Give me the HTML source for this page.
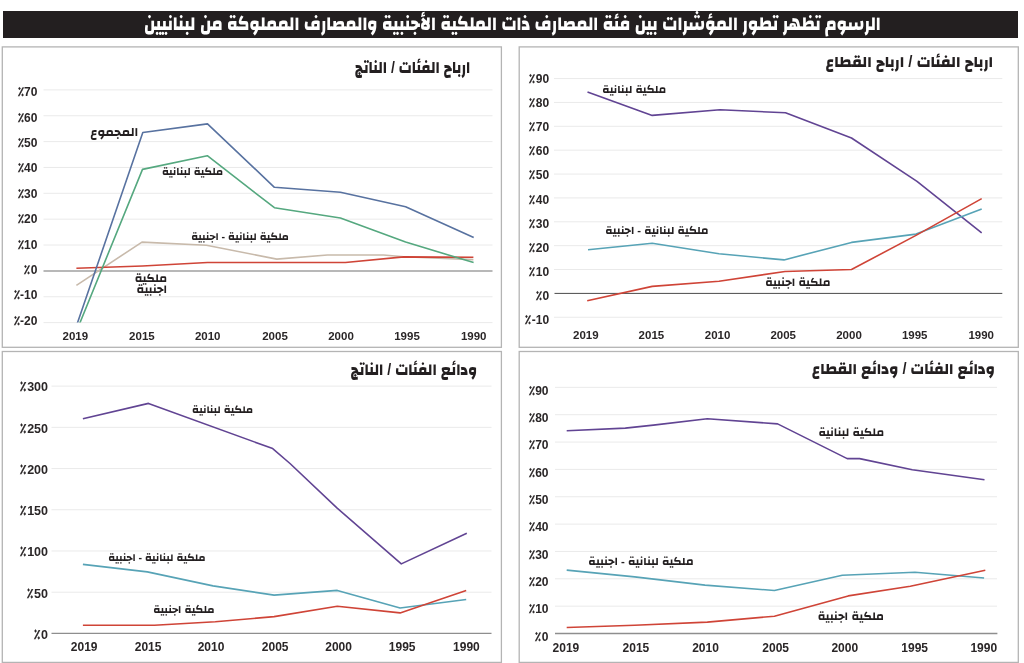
<!DOCTYPE html>
<html lang="ar"><head><meta charset="utf-8"><title>الرسوم تظهر تطور المؤشرات</title>
<style>
html,body{margin:0;padding:0;background:#fff;}
body{width:1024px;height:663px;position:relative;overflow:hidden;}
svg{position:absolute;left:0;top:0;}
.a{position:absolute;line-height:1.6;font-family:'Liberation Sans', 'Changa', 'DejaVu Sans', sans-serif;direction:rtl;white-space:nowrap;}
.x{position:absolute;width:60px;text-align:center;line-height:20px;font-family:'Liberation Sans', Arial, sans-serif;font-weight:700;color:#2a2627;white-space:nowrap;}
.y{position:absolute;line-height:20px;font-family:'Liberation Sans', Arial, sans-serif;font-weight:700;color:#2a2627;white-space:nowrap;direction:ltr;}
.p{font-family:'Readex Pro', 'DejaVu Sans', sans-serif;font-weight:700;-webkit-text-stroke:0.25px #2a2627;display:inline-block;transform:scaleX(0.8);transform-origin:100% 50%;}
</style></head><body>
<div style="position:absolute;left:3.2px;top:10.8px;width:1014.5px;height:27.2px;background:#231f20"></div>
<svg width="1024" height="663" viewBox="0 0 1024 663">
<rect x="2.3" y="46.9" width="499.1" height="300.4" fill="none" stroke="#b4b4b4" stroke-width="1.3"/>
<rect x="519.2" y="46.9" width="499.1" height="300.4" fill="none" stroke="#b4b4b4" stroke-width="1.3"/>
<rect x="2.3" y="351.5" width="499.1" height="310.9" fill="none" stroke="#b4b4b4" stroke-width="1.3"/>
<rect x="519.2" y="351.5" width="499.1" height="310.9" fill="none" stroke="#b4b4b4" stroke-width="1.3"/>
<line x1="43.5" y1="89.88" x2="492.5" y2="89.88" stroke="#eaeaea" stroke-width="1"/>
<line x1="43.5" y1="115.74" x2="492.5" y2="115.74" stroke="#eaeaea" stroke-width="1"/>
<line x1="43.5" y1="141.60" x2="492.5" y2="141.60" stroke="#eaeaea" stroke-width="1"/>
<line x1="43.5" y1="167.46" x2="492.5" y2="167.46" stroke="#eaeaea" stroke-width="1"/>
<line x1="43.5" y1="193.32" x2="492.5" y2="193.32" stroke="#eaeaea" stroke-width="1"/>
<line x1="43.5" y1="219.18" x2="492.5" y2="219.18" stroke="#eaeaea" stroke-width="1"/>
<line x1="43.5" y1="245.04" x2="492.5" y2="245.04" stroke="#eaeaea" stroke-width="1"/>
<line x1="43.5" y1="296.76" x2="492.5" y2="296.76" stroke="#eaeaea" stroke-width="1"/>
<line x1="43.5" y1="322.62" x2="492.5" y2="322.62" stroke="#eaeaea" stroke-width="1"/>
<line x1="43.5" y1="270.90" x2="492.5" y2="270.90" stroke="#a0a0a0" stroke-width="1.5"/>
<clipPath id="cTL"><rect x="40" y="80" width="460" height="242.6"/></clipPath>
<polyline points="76.4,285.3 142.0,242.1 206.4,245.2 276.8,259.1 327.4,255.0 383.5,255.0 403.8,256.8 473.4,259.6" fill="none" stroke="#c8baab" stroke-width="1.6" stroke-linejoin="round" stroke-linecap="butt"/>
<polyline points="76.4,268.2 142.5,266.0 207.5,262.5 274.4,262.5 345.4,262.5 403.8,256.9 473.4,257.2" fill="none" stroke="#cf4437" stroke-width="1.6" stroke-linejoin="round" stroke-linecap="butt"/>
<polyline points="77.0,330.0 142.5,169.4 207.3,155.7 274.4,207.7 340.4,218.0 405.6,242.1 473.6,262.6" fill="none" stroke="#55a87f" stroke-width="1.6" stroke-linejoin="round" stroke-linecap="butt" clip-path="url(#cTL)"/>
<polyline points="77.1,324.0 142.8,132.5 207.5,123.9 274.4,187.3 340.4,192.2 405.6,206.7 473.7,237.6" fill="none" stroke="#5872a0" stroke-width="1.6" stroke-linejoin="round" stroke-linecap="butt" clip-path="url(#cTL)"/>
<line x1="554" y1="78.57" x2="1002.3" y2="78.57" stroke="#eaeaea" stroke-width="1"/>
<line x1="554" y1="102.44" x2="1002.3" y2="102.44" stroke="#eaeaea" stroke-width="1"/>
<line x1="554" y1="126.31" x2="1002.3" y2="126.31" stroke="#eaeaea" stroke-width="1"/>
<line x1="554" y1="150.18" x2="1002.3" y2="150.18" stroke="#eaeaea" stroke-width="1"/>
<line x1="554" y1="174.05" x2="1002.3" y2="174.05" stroke="#eaeaea" stroke-width="1"/>
<line x1="554" y1="197.92" x2="1002.3" y2="197.92" stroke="#eaeaea" stroke-width="1"/>
<line x1="554" y1="221.79" x2="1002.3" y2="221.79" stroke="#eaeaea" stroke-width="1"/>
<line x1="554" y1="245.66" x2="1002.3" y2="245.66" stroke="#eaeaea" stroke-width="1"/>
<line x1="554" y1="269.53" x2="1002.3" y2="269.53" stroke="#eaeaea" stroke-width="1"/>
<line x1="554" y1="317.27" x2="1002.3" y2="317.27" stroke="#eaeaea" stroke-width="1"/>
<line x1="554.5" y1="293.40" x2="1002.3" y2="293.40" stroke="#4a4a4a" stroke-width="1"/>
<polyline points="587.5,92.1 652.2,115.4 720.0,109.8 785.5,112.8 851.5,138.0 917.0,181.3 981.7,232.8" fill="none" stroke="#614493" stroke-width="1.6" stroke-linejoin="round" stroke-linecap="butt"/>
<polyline points="588.0,249.7 652.2,243.3 719.0,253.8 784.0,259.9 851.5,242.4 916.0,234.1 981.7,209.1" fill="none" stroke="#57a3b6" stroke-width="1.6" stroke-linejoin="round" stroke-linecap="butt"/>
<polyline points="587.2,300.7 652.2,286.4 719.0,281.3 785.0,271.5 851.5,269.5 916.0,235.4 981.7,198.6" fill="none" stroke="#cf4437" stroke-width="1.6" stroke-linejoin="round" stroke-linecap="butt"/>
<line x1="51.5" y1="386.14" x2="491.5" y2="386.14" stroke="#eaeaea" stroke-width="1"/>
<line x1="51.5" y1="427.35" x2="491.5" y2="427.35" stroke="#eaeaea" stroke-width="1"/>
<line x1="51.5" y1="468.56" x2="491.5" y2="468.56" stroke="#eaeaea" stroke-width="1"/>
<line x1="51.5" y1="509.77" x2="491.5" y2="509.77" stroke="#eaeaea" stroke-width="1"/>
<line x1="51.5" y1="550.98" x2="491.5" y2="550.98" stroke="#eaeaea" stroke-width="1"/>
<line x1="51.5" y1="592.19" x2="491.5" y2="592.19" stroke="#eaeaea" stroke-width="1"/>
<line x1="51.5" y1="633.40" x2="491.5" y2="633.40" stroke="#8e8e8e" stroke-width="1.3"/>
<polyline points="82.9,418.8 148.5,403.4 272.7,448.6 290.0,463.5 336.9,507.9 401.3,563.9 466.8,533.2" fill="none" stroke="#614493" stroke-width="1.6" stroke-linejoin="round" stroke-linecap="butt"/>
<polyline points="82.9,564.4 147.3,571.9 213.0,585.9 274.1,595.1 337.3,590.4 400.1,608.0 466.2,599.5" fill="none" stroke="#57a3b6" stroke-width="1.6" stroke-linejoin="round" stroke-linecap="butt"/>
<polyline points="82.9,625.3 154.4,625.3 215.3,621.8 274.1,616.6 337.3,606.3 400.1,612.9 466.2,590.6" fill="none" stroke="#cf4437" stroke-width="1.6" stroke-linejoin="round" stroke-linecap="butt"/>
<line x1="555" y1="387.35" x2="997" y2="387.35" stroke="#eaeaea" stroke-width="1"/>
<line x1="555" y1="414.70" x2="997" y2="414.70" stroke="#eaeaea" stroke-width="1"/>
<line x1="555" y1="442.05" x2="997" y2="442.05" stroke="#eaeaea" stroke-width="1"/>
<line x1="555" y1="469.40" x2="997" y2="469.40" stroke="#eaeaea" stroke-width="1"/>
<line x1="555" y1="496.75" x2="997" y2="496.75" stroke="#eaeaea" stroke-width="1"/>
<line x1="555" y1="524.10" x2="997" y2="524.10" stroke="#eaeaea" stroke-width="1"/>
<line x1="555" y1="551.45" x2="997" y2="551.45" stroke="#eaeaea" stroke-width="1"/>
<line x1="555" y1="578.80" x2="997" y2="578.80" stroke="#eaeaea" stroke-width="1"/>
<line x1="555" y1="606.15" x2="997" y2="606.15" stroke="#eaeaea" stroke-width="1"/>
<line x1="555" y1="633.50" x2="997.4" y2="633.50" stroke="#8e8e8e" stroke-width="1.3"/>
<polyline points="566.7,430.7 625.3,428.1 653.4,425.1 707.3,418.7 777.6,423.9 847.2,458.6 859.6,458.6 912.3,469.8 984.5,479.7" fill="none" stroke="#614493" stroke-width="1.6" stroke-linejoin="round" stroke-linecap="butt"/>
<polyline points="566.7,570.1 634.7,576.9 705.0,585.1 774.4,590.5 842.3,575.2 915.0,572.2 984.1,578.0" fill="none" stroke="#57a3b6" stroke-width="1.6" stroke-linejoin="round" stroke-linecap="butt"/>
<polyline points="566.7,627.5 634.7,625.2 707.3,622.1 774.4,616.2 848.2,595.9 910.3,586.2 985.3,570.3" fill="none" stroke="#cf4437" stroke-width="1.6" stroke-linejoin="round" stroke-linecap="butt"/>
</svg>
<div class="y" style="right:986.6px;top:82.2px;font-size:12px"><span class="p">٪</span>70</div>
<div class="y" style="right:986.6px;top:107.6px;font-size:12px"><span class="p">٪</span>60</div>
<div class="y" style="right:986.6px;top:133.0px;font-size:12px"><span class="p">٪</span>50</div>
<div class="y" style="right:986.6px;top:158.4px;font-size:12px"><span class="p">٪</span>40</div>
<div class="y" style="right:986.6px;top:183.8px;font-size:12px"><span class="p">٪</span>30</div>
<div class="y" style="right:986.6px;top:209.2px;font-size:12px"><span class="p">٪</span>20</div>
<div class="y" style="right:986.6px;top:234.6px;font-size:12px"><span class="p">٪</span>10</div>
<div class="y" style="right:986.6px;top:260.0px;font-size:12px"><span class="p">٪</span>0</div>
<div class="y" style="right:986.6px;top:285.4px;font-size:12px"><span class="p">٪</span>-10</div>
<div class="y" style="right:986.6px;top:310.8px;font-size:12px"><span class="p">٪</span>-20</div>
<div class="x" style="left:45.3px;top:325.6px;font-size:11.5px">2019</div>
<div class="x" style="left:111.9px;top:325.6px;font-size:11.5px">2015</div>
<div class="x" style="left:177.7px;top:325.6px;font-size:11.5px">2010</div>
<div class="x" style="left:245.0px;top:325.6px;font-size:11.5px">2005</div>
<div class="x" style="left:311.0px;top:325.6px;font-size:11.5px">2000</div>
<div class="x" style="left:377.0px;top:325.6px;font-size:11.5px">1995</div>
<div class="x" style="left:443.7px;top:325.6px;font-size:11.5px">1990</div>
<div class="a" style="right:553.80px;top:56.15px;font-size:14.06px;font-weight:800;color:#231f20;transform:scaleY(1.220);transform-origin:50% 60%;">ارباح الفئات / الناتج</div>
<div class="a" style="right:885.80px;top:122.35px;font-size:12.53px;font-weight:700;color:#231f20;">المجموع</div>
<div class="a" style="right:800.90px;top:162.70px;font-size:10.71px;font-weight:700;color:#231f20;">ملكية لبنانية</div>
<div class="a" style="right:735.10px;top:227.60px;font-size:10.67px;font-weight:700;color:#231f20;">ملكية لبنانية - اجنبية</div>
<div class="a" style="right:857.00px;top:268.60px;font-size:11.80px;font-weight:700;color:#231f20;">ملكية</div>
<div class="a" style="right:857.00px;top:279.70px;font-size:11.85px;font-weight:700;color:#231f20;">اجنبية</div>
<div class="y" style="right:474.9px;top:68.8px;font-size:12px"><span class="p">٪</span>90</div>
<div class="y" style="right:474.9px;top:93.0px;font-size:12px"><span class="p">٪</span>80</div>
<div class="y" style="right:474.9px;top:117.1px;font-size:12px"><span class="p">٪</span>70</div>
<div class="y" style="right:474.9px;top:141.2px;font-size:12px"><span class="p">٪</span>60</div>
<div class="y" style="right:474.9px;top:165.4px;font-size:12px"><span class="p">٪</span>50</div>
<div class="y" style="right:474.9px;top:189.5px;font-size:12px"><span class="p">٪</span>40</div>
<div class="y" style="right:474.9px;top:213.6px;font-size:12px"><span class="p">٪</span>30</div>
<div class="y" style="right:474.9px;top:237.7px;font-size:12px"><span class="p">٪</span>20</div>
<div class="y" style="right:474.9px;top:261.9px;font-size:12px"><span class="p">٪</span>10</div>
<div class="y" style="right:474.9px;top:286.0px;font-size:12px"><span class="p">٪</span>0</div>
<div class="y" style="right:474.9px;top:310.1px;font-size:12px"><span class="p">٪</span>-10</div>
<div class="x" style="left:555.8px;top:324.9px;font-size:11.5px">2019</div>
<div class="x" style="left:621.4px;top:324.9px;font-size:11.5px">2015</div>
<div class="x" style="left:687.6px;top:324.9px;font-size:11.5px">2010</div>
<div class="x" style="left:753.2px;top:324.9px;font-size:11.5px">2005</div>
<div class="x" style="left:819.0px;top:324.9px;font-size:11.5px">2000</div>
<div class="x" style="left:884.7px;top:324.9px;font-size:11.5px">1995</div>
<div class="x" style="left:951.2px;top:324.9px;font-size:11.5px">1990</div>
<div class="a" style="right:31.00px;top:49.90px;font-size:15.00px;font-weight:800;color:#231f20;transform:scaleY(1.040);transform-origin:50% 60%;">ارباح الفئات / ارباح القطاع</div>
<div class="a" style="right:357.90px;top:80.60px;font-size:11.19px;font-weight:700;color:#231f20;">ملكية لبنانية</div>
<div class="a" style="right:315.60px;top:221.20px;font-size:11.25px;font-weight:700;color:#231f20;">ملكية لبنانية - اجنبية</div>
<div class="a" style="right:193.60px;top:272.60px;font-size:11.67px;font-weight:700;color:#231f20;">ملكية اجنبية</div>
<div class="y" style="right:976.0px;top:376.4px;font-size:12.5px"><span class="p">٪</span>300</div>
<div class="y" style="right:976.0px;top:417.6px;font-size:12.5px"><span class="p">٪</span>250</div>
<div class="y" style="right:976.0px;top:458.9px;font-size:12.5px"><span class="p">٪</span>200</div>
<div class="y" style="right:976.0px;top:500.1px;font-size:12.5px"><span class="p">٪</span>150</div>
<div class="y" style="right:976.0px;top:541.3px;font-size:12.5px"><span class="p">٪</span>100</div>
<div class="y" style="right:976.0px;top:582.5px;font-size:12.5px"><span class="p">٪</span>50</div>
<div class="y" style="right:976.0px;top:623.7px;font-size:12.5px"><span class="p">٪</span>0</div>
<div class="x" style="left:54.2px;top:637.3px;font-size:12px">2019</div>
<div class="x" style="left:118.1px;top:637.3px;font-size:12px">2015</div>
<div class="x" style="left:181.0px;top:637.3px;font-size:12px">2010</div>
<div class="x" style="left:245.2px;top:637.3px;font-size:12px">2005</div>
<div class="x" style="left:308.6px;top:637.3px;font-size:12px">2000</div>
<div class="x" style="left:372.2px;top:637.3px;font-size:12px">1995</div>
<div class="x" style="left:436.4px;top:637.3px;font-size:12px">1990</div>
<div class="a" style="right:547.00px;top:359.15px;font-size:14.25px;font-weight:800;color:#231f20;transform:scaleY(1.170);transform-origin:50% 60%;">ودائع الفئات / الناتج</div>
<div class="a" style="right:771.00px;top:401.30px;font-size:10.68px;font-weight:700;color:#231f20;">ملكية لبنانية</div>
<div class="a" style="right:818.40px;top:549.10px;font-size:10.63px;font-weight:700;color:#231f20;">ملكية لبنانية - اجنبية</div>
<div class="a" style="right:809.50px;top:600.80px;font-size:10.97px;font-weight:700;color:#231f20;">ملكية اجنبية</div>
<div class="y" style="right:475.5px;top:380.6px;font-size:12px"><span class="p">٪</span>90</div>
<div class="y" style="right:475.5px;top:407.9px;font-size:12px"><span class="p">٪</span>80</div>
<div class="y" style="right:475.5px;top:435.3px;font-size:12px"><span class="p">٪</span>70</div>
<div class="y" style="right:475.5px;top:462.6px;font-size:12px"><span class="p">٪</span>60</div>
<div class="y" style="right:475.5px;top:489.9px;font-size:12px"><span class="p">٪</span>50</div>
<div class="y" style="right:475.5px;top:517.2px;font-size:12px"><span class="p">٪</span>40</div>
<div class="y" style="right:475.5px;top:544.5px;font-size:12px"><span class="p">٪</span>30</div>
<div class="y" style="right:475.5px;top:571.9px;font-size:12px"><span class="p">٪</span>20</div>
<div class="y" style="right:475.5px;top:599.2px;font-size:12px"><span class="p">٪</span>10</div>
<div class="y" style="right:475.5px;top:626.5px;font-size:12px"><span class="p">٪</span>0</div>
<div class="x" style="left:535.9px;top:637.6px;font-size:12px">2019</div>
<div class="x" style="left:605.9px;top:637.6px;font-size:12px">2015</div>
<div class="x" style="left:675.5px;top:637.6px;font-size:12px">2010</div>
<div class="x" style="left:745.7px;top:637.6px;font-size:12px">2005</div>
<div class="x" style="left:814.8px;top:637.6px;font-size:12px">2000</div>
<div class="x" style="left:884.7px;top:637.6px;font-size:12px">1995</div>
<div class="x" style="left:953.8px;top:637.6px;font-size:12px">1990</div>
<div class="a" style="right:29.10px;top:358.40px;font-size:14.70px;font-weight:800;color:#231f20;transform:scaleY(1.060);transform-origin:50% 60%;">ودائع الفئات / ودائع القطاع</div>
<div class="a" style="right:140.00px;top:422.80px;font-size:11.51px;font-weight:700;color:#231f20;">ملكية لبنانية</div>
<div class="a" style="right:330.50px;top:552.10px;font-size:11.49px;font-weight:700;color:#231f20;">ملكية لبنانية - اجنبية</div>
<div class="a" style="right:140.00px;top:607.10px;font-size:11.89px;font-weight:700;color:#231f20;">ملكية اجنبية</div>
<div class="a" style="right:143.30px;top:9.70px;font-size:16.38px;font-weight:800;color:#ffffff;transform:scaleY(1.190);transform-origin:50% 60%;">الرسوم تظهر تطور المؤشرات بين فئة المصارف ذات الملكية الأجنبية والمصارف المملوكة من لبنانيين</div>
<script>
(function(){
var W=[115.50,48.06,61.08,97.62,32.38,30.41,167.47,63.84,103.06,65.14,126.52,60.91,97.34,61.30,183.22,65.62,105.20,66.36,736.70];
function fit(){
  var els=document.querySelectorAll('.a');
  for(var i=0;i<els.length&&i<W.length;i++){
    var e=els[i];
    if(e.__b===undefined){e.__b=e.style.transform||'';}
    e.style.transform=e.__b;
    var w=e.getBoundingClientRect().width; if(!w) continue;
    var r=W[i]/w;
    if(Math.abs(r-1)>0.03){
      var m=e.__b.match(/scaleY\(([\d.]+)\)/); var sy=m?parseFloat(m[1]):1;
      e.style.transformOrigin='100% 60%';
      e.style.transform='scale('+r.toFixed(4)+','+sy+')';
    }
  }
}
fit();
document.addEventListener('DOMContentLoaded',fit);
window.addEventListener('load',fit);
if(document.fonts&&document.fonts.ready){document.fonts.ready.then(fit);}
})();
</script>
</body></html>
